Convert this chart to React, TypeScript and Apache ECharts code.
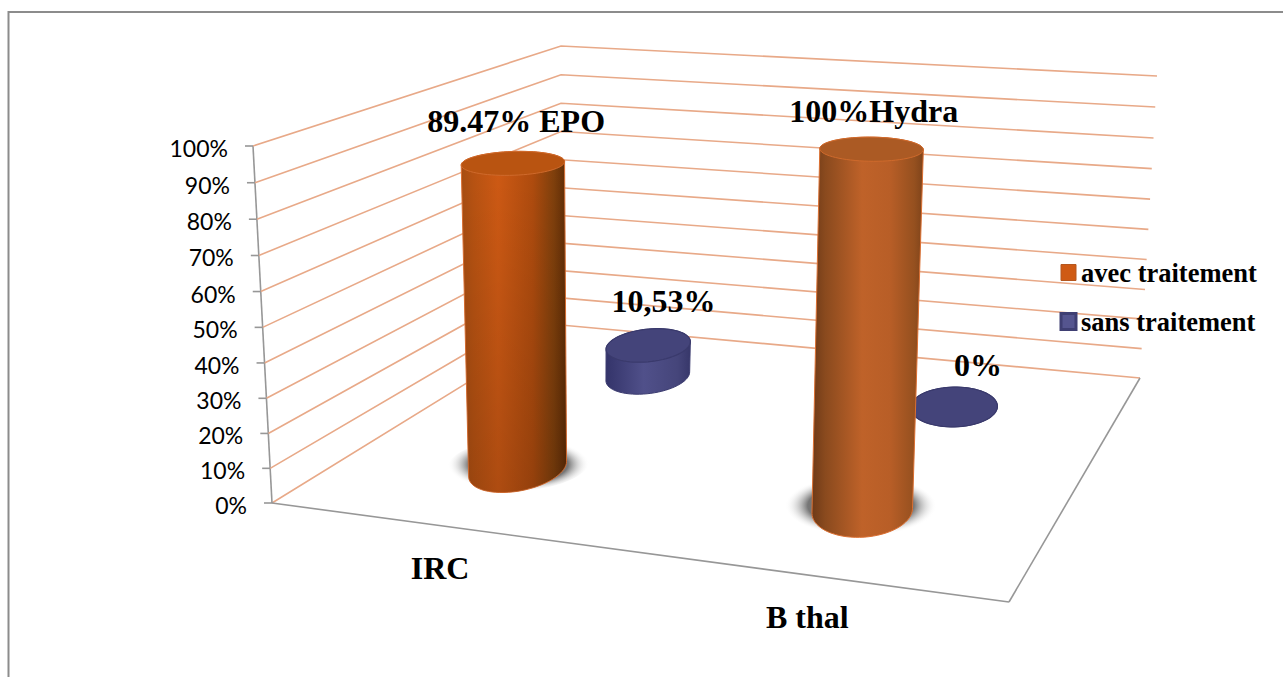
import React, { useEffect, useRef } from "react";
import * as echarts from "echarts";

// Chart data
const categories = ["IRC", "B thal"];
const seriesNames = ["avec traitement", "sans traitement"];
const avecTraitement = [89.47, 100];
const sansTraitement = [10.53, 0];
const avecLabels = ["89.47% EPO", "100%Hydra"];
const sansLabels = ["10,53%", "0%"];
const yTicks = [0, 10, 20, 30, 40, 50, 60, 70, 80, 90, 100];

const W = 1283;
const H = 677;
const SERIF = '"Liberation Serif", "Times New Roman", serif';
const GRID_COLOR = "#e8a988";
const AXIS_COLOR = "#979797";

type Pt = [number, number];

// Homography taking the unit square (u along the categories, v into the depth) to a quad.
function squareToQuad(q: Pt[]) {
  const [[x0, y0], [x1, y1], [x2, y2], [x3, y3]] = q;
  const dx1 = x1 - x2, dx2 = x3 - x2, sx = x0 - x1 + x2 - x3;
  const dy1 = y1 - y2, dy2 = y3 - y2, sy = y0 - y1 + y2 - y3;
  const den = dx1 * dy2 - dx2 * dy1;
  const g = (sx * dy2 - dx2 * sy) / den;
  const h = (dx1 * sy - sx * dy1) / den;
  const a = x1 - x0 + g * x1, b = x3 - x0 + h * x3;
  const d = y1 - y0 + g * y1, e = y3 - y0 + h * y3;
  return (u: number, v: number): Pt => {
    const k = g * u + h * v + 1;
    return [(a * u + b * v + x0) / k, (d * u + e * v + y0) / k];
  };
}

// The 3D box: floor and ceiling planes of the plot, front-left first.
const floorAt = squareToQuad([[272, 503], [1009, 602], [1140, 378], [561, 325]]);
const ceilingAt = squareToQuad([[253, 146], [1025, 200], [1157, 76], [561, 46]]);

function project(u: number, v: number, w: number): Pt {
  const f = floorAt(u, v);
  const t = ceilingAt(u, v);
  const s = 0.968 * w + 0.032 * w * w;
  return [f[0] + (t[0] - f[0]) * s, f[1] + (t[1] - f[1]) * s];
}

const RADIUS_U = 0.065;
const RADIUS_V = 0.105;
const SHEAR = -0.008;

// Outline of a cylinder's section at height w; sections flatten towards the top of the box.
function ring(u: number, v: number, w: number, scaleU = 1, scaleV = 1): Pt[] {
  const pts: Pt[] = [];
  const ru = RADIUS_U * scaleU * (1 + w * (0.12 - 0.13 * u));
  const rv = RADIUS_V * scaleV * (1 - 0.2 * w);
  for (let i = 0; i < 72; i++) {
    const t = (i / 72) * Math.PI * 2;
    const c = Math.cos(t);
    const s = Math.sin(t);
    pts.push(project(u + ru * c + SHEAR * s, v + rv * s, w));
  }
  return pts;
}

function hull(points: Pt[]): Pt[] {
  const p = [...points].sort((a, b) => a[0] - b[0] || a[1] - b[1]);
  const cross = (o: Pt, a: Pt, b: Pt) => (a[0] - o[0]) * (b[1] - o[1]) - (a[1] - o[1]) * (b[0] - o[0]);
  const lo: Pt[] = [];
  for (const q of p) {
    while (lo.length > 1 && cross(lo[lo.length - 2], lo[lo.length - 1], q) <= 0) lo.pop();
    lo.push(q);
  }
  const up: Pt[] = [];
  for (const q of [...p].reverse()) {
    while (up.length > 1 && cross(up[up.length - 2], up[up.length - 1], q) <= 0) up.pop();
    up.push(q);
  }
  return lo.slice(0, -1).concat(up.slice(0, -1));
}

const sideFill = (stops: [number, string][]) => ({
  type: "linear", x: 0, y: 0, x2: 1, y2: 0, global: false,
  colorStops: stops.map(([offset, color]) => ({ offset, color })),
});

// Cylinder shading, one entry per category.
const avecSides = [
  sideFill([[0, "#a84e12"], [0.12, "#b95312"], [0.35, "#cf5a14"], [0.68, "#b04c0e"], [0.88, "#80400c"], [1, "#5f2c06"]]),
  sideFill([[0, "#6e3a18"], [0.12, "#8a4a1e"], [0.45, "#bf6229"], [0.7, "#b85e27"], [0.92, "#95501f"], [1, "#7e431a"]]),
];
const avecCaps = ["#b95411", "#ab5a24"];
const sansSide = sideFill([[0, "#34346a"], [0.45, "#50508a"], [0.85, "#45457a"], [1, "#37376a"]]);

function textEl(text: string, x: number, y: number, font: string, align = "center") {
  return {
    type: "text",
    silent: true,
    style: { text, x, y, font, fill: "#000", textAlign: align, textVerticalAlign: "middle" },
  };
}

const uOf = (px: number) => px / W;
const wOf = (py: number) => 1 - py / H;
const v1 = 0.25;
const v2 = 0.75;

function wallItem(params: any, api: any) {
  const c = api.coord([0, api.value(1)]);
  const w = wOf(c[1]);
  const children: any[] = [];
  const front = project(0, 0, w);
  children.push({
    type: "polyline",
    silent: true,
    shape: { points: [front, project(0, 1, w), project(1, 1, w)] },
    style: { fill: "none", stroke: GRID_COLOR, lineWidth: 1.6 },
  });
  children.push({
    type: "line",
    silent: true,
    shape: { x1: front[0] - 8, y1: front[1], x2: front[0], y2: front[1] },
    style: { stroke: AXIS_COLOR, lineWidth: 1.6 },
  });
  children.push(
    textEl(`${yTicks[params.dataIndex]}%`, front[0] - 25, front[1] + 2, '23px Lato, "Open Sans", sans-serif', "right")
  );
  if (params.dataIndex === 0) {
    const axisEdges = [
      [project(0, 0, 0), project(0, 0, 1)],
      [project(0, 0, 0), project(1, 0, 0)],
      [project(1, 0, 0), project(1, 1, 0)],
    ];
    axisEdges.forEach(([a, b]) =>
      children.push({
        type: "line",
        silent: true,
        shape: { x1: a[0], y1: a[1], x2: b[0], y2: b[1] },
        style: { stroke: AXIS_COLOR, lineWidth: 1.6 },
      })
    );
  }
  return { type: "group", children };
}

function categoryItem(params: any, api: any) {
  const c = api.coord([api.value(0), 0]);
  const p = project(uOf(c[0]), 0, 0);
  return { type: "group", children: [textEl(categories[params.dataIndex], p[0] + 3, p[1] + 43, `bold 32px ${SERIF}`)] };
}

function avecItem(params: any, api: any) {
  const i = params.dataIndex;
  const c = api.coord([api.value(0), api.value(1)]);
  const u = uOf(c[0]) + 0.004;
  const w = wOf(c[1]);
  const base = ring(u, v1, 0);
  const cap = ring(u - 0.003, v1, w);
  const side = hull(base.concat(cap));
  const topCentre = project(u, v1, w);
  const shadow = ring(u - 0.008, v1 + 0.02, 0, 1.55, 1.15);
  const children: any[] = [
    {
      type: "polygon",
      silent: true,
      shape: { points: shadow },
      style: {
        fill: {
          type: "radial", x: 0.5, y: 0.5, r: 0.5, global: false,
          colorStops: [
            { offset: 0, color: "#555" },
            { offset: 0.7, color: "#777" },
            { offset: 1, color: "rgba(255,255,255,0)" },
          ],
        },
      },
    },
    {
      type: "polygon",
      silent: true,
      shape: { points: side },
      style: { fill: avecSides[i], stroke: "#dc7032", lineWidth: 1 },
    },
    {
      type: "polygon",
      silent: true,
      shape: { points: side },
      style: {
        fill: {
          type: "linear", x: 0, y: 0, x2: 0, y2: 1, global: false,
          colorStops: [
            { offset: 0, color: "rgba(0,0,0,0)" },
            { offset: 1, color: i === 0 ? "rgba(0,0,0,0.16)" : "rgba(0,0,0,0)" },
          ],
        },
      },
    },
    {
      type: "polygon",
      silent: true,
      shape: { points: cap },
      style: { fill: avecCaps[i], stroke: "#cf6a2c", lineWidth: 1 },
    },
    textEl(avecLabels[i], topCentre[0] + (i === 0 ? 1 : 0), topCentre[1] - (i === 0 ? 42 : 38), `bold 32px ${SERIF}`),
  ];
  return { type: "group", children };
}

function sansItem(params: any, api: any) {
  const i = params.dataIndex;
  const c = api.coord([api.value(0), api.value(1)]);
  const u = uOf(c[0]) + 0.01;
  const w = wOf(c[1]);
  const base = ring(u, v2, 0);
  const cap = ring(u, v2, w);
  const topCentre = project(u, v2, w);
  const children: any[] = [
    {
      type: "polygon",
      silent: true,
      shape: { points: hull(base.concat(cap)) },
      style: { fill: sansSide, stroke: "#3c3c70", lineWidth: 1 },
    },
    {
      type: "polygon",
      silent: true,
      shape: { points: cap },
      style: { fill: "#44447a", stroke: "#3a3a6c", lineWidth: 1.2 },
    },
    textEl(sansLabels[i], topCentre[0] + (i === 0 ? 15 : 24), topCentre[1] - (i === 0 ? 44 : 41), `bold 32px ${SERIF}`),
  ];
  return { type: "group", children };
}

export default function App() {
  const ref = useRef<HTMLDivElement>(null);

  useEffect(() => {
    const chart = echarts.init(ref.current!, null, { renderer: "svg" });
    chart.setOption({
      animation: false,
      backgroundColor: "#ffffff",
      // Hidden cartesian scales: their pixel output is normalised and fed to the 3D projection.
      grid: { left: 0, top: 0, width: W, height: H },
      xAxis: { type: "category", data: categories, show: false },
      yAxis: { type: "value", min: 0, max: 100, interval: 10, show: false },
      legend: {
        orient: "vertical",
        left: 1059.5,
        top: 259,
        padding: 0,
        itemWidth: 15,
        itemHeight: 16,
        itemGap: 22,
        icon: "rect",
        selectedMode: false,
        textStyle: { fontFamily: SERIF, fontWeight: "bold", fontSize: 26.5, color: "#000" },
        data: [
          { name: seriesNames[0], itemStyle: { color: "#cf5a14", borderColor: "#b5571f", borderWidth: 1 } },
          { name: seriesNames[1], itemStyle: { color: "#55558f", borderColor: "#3f3f73", borderWidth: 3 } },
        ],
      },
      graphic: [
        {
          type: "polyline",
          silent: true,
          shape: { points: [[8.5, 677], [8.5, 12], [1283, 12]] },
          style: { fill: "none", stroke: "#8c8c8c", lineWidth: 2 },
        },
      ],
      series: [
        {
          type: "custom",
          name: "walls",
          clip: false,
          silent: true,
          z: 1,
          renderItem: wallItem,
          data: yTicks.map((t) => [0, t]),
        },
        {
          type: "custom",
          name: "categories",
          clip: false,
          silent: true,
          z: 2,
          renderItem: categoryItem,
          data: categories.map((_, i) => [i, 0]),
        },
        {
          type: "custom",
          name: seriesNames[1],
          clip: false,
          silent: true,
          z: 3,
          itemStyle: { color: "#55558f" },
          renderItem: sansItem,
          data: sansTraitement.map((v, i) => [i, v]),
        },
        {
          type: "custom",
          name: seriesNames[0],
          clip: false,
          silent: true,
          z: 4,
          itemStyle: { color: "#cf5a14" },
          renderItem: avecItem,
          data: avecTraitement.map((v, i) => [i, v]),
        },
      ],
    });
    return () => chart.dispose();
  }, []);

  return <div ref={ref} style={{ position: "fixed", left: 0, top: 0, width: W, height: H }} />;
}
